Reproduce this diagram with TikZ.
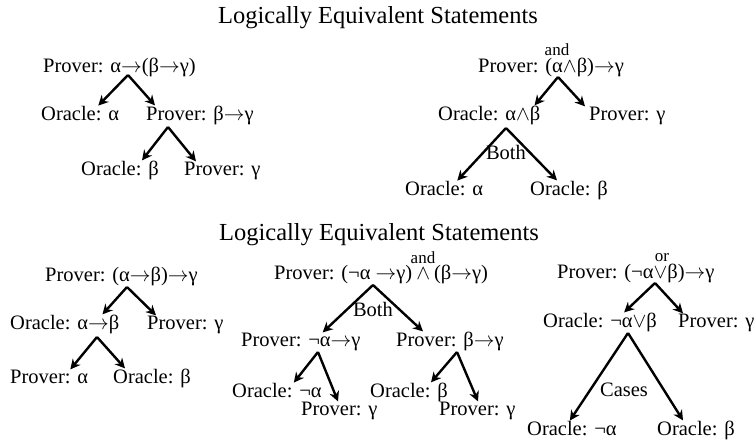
\documentclass[tikz,border=0pt]{standalone}
\usepackage{fontspec}
\setmainfont{Liberation Serif}
\usetikzlibrary{arrows.meta}
\newcommand{\andsym}{\ensuremath{\wedge}}
\newcommand{\orsym}{\ensuremath{\vee}}
\newcommand{\imp}{\ensuremath{\rightarrow}}

\begin{document}
\begin{tikzpicture}[x=1pt,y=-1pt,
  lbl/.style={anchor=base west,inner sep=0pt,font=\fontsize{20.5}{22}\selectfont},
  small/.style={anchor=base,inner sep=0pt,font=\fontsize{17}{18}\selectfont},
  ttl/.style={inner sep=0pt,font=\fontsize{24.5}{26}\selectfont},
  arr/.style={line width=2.4pt,-{Stealth[length=10pt,width=10pt]}}]
  \useasboundingbox (0,0) rectangle (754,440);

  \node[ttl] (title1) at (378,18) {Logically Equivalent Statements};
  \node[ttl] (title2) at (379,235) {Logically Equivalent Statements};

  % top left: alpha -> (beta -> gamma)
  \node[lbl] (tlp) at (43,72) {Prover: α\imp(β\imp γ)};
  \node[lbl] (tlo1) at (41,120) {Oracle: α};
  \node[lbl] (tlp2) at (146,120) {Prover: β\imp γ};
  \node[lbl] (tlo2) at (81,175) {Oracle: β};
  \node[lbl] (tlp3) at (184,175) {Prover: γ};
  \coordinate (tla1) at (128,75);
  \coordinate (tla2) at (168,127);
  \draw[arr] (tla1) -- ([xshift=-21pt]tlo1.north east);
  \draw[arr] (tla1) -- ([xshift=9pt]tlp2.north west);
  \draw[arr] (tla2) -- ([xshift=-17pt]tlo2.north east);
  \draw[arr] (tla2) -- ([xshift=12pt]tlp3.north west);

  % top right: (alpha and beta) -> gamma
  \node[lbl] (trp) at (478,72) {Prover: (α\andsym β)\imp γ};
  \node[small] (trand) at (557,55) {and};
  \node[lbl] (tro1) at (438,120) {Oracle: α\andsym β};
  \node[lbl] (trp2) at (589,120) {Prover: γ};
  \node[lbl] (tro2) at (405,195) {Oracle: α};
  \node[lbl] (tro3) at (530,195) {Oracle: β};
  \coordinate (tra1) at (558,77);
  \coordinate (tra2) at (506,128);
  \draw[arr] (tra1) -- ([xshift=-6pt]tro1.north east);
  \draw[arr] (tra1) -- ([xshift=-4pt]trp2.north west);
  \draw[arr] (tra2) -- ([xshift=-26pt]tro2.north east);
  \draw[arr] (tra2) -- ([xshift=27pt]tro3.north west);
  \node[lbl,anchor=center] (trboth) at (506,152) {Both};

  % bottom left: (alpha -> beta) -> gamma
  \node[lbl] (blp) at (45,281) {Prover: (α\imp β)\imp γ};
  \node[lbl] (blo1) at (10,329) {Oracle: α\imp β};
  \node[lbl] (blp2) at (147,329) {Prover: γ};
  \node[lbl] (blp3) at (10,383) {Prover: α};
  \node[lbl] (blo2) at (113,383) {Oracle: β};
  \coordinate (bla1) at (127,287);
  \coordinate (bla2) at (97,337);
  \draw[arr] (bla1) -- ([xshift=-17pt]blo1.north east);
  \draw[arr] (bla1) -- ([xshift=9pt]blp2.north west);
  \draw[arr] (bla2) -- ([xshift=-18pt]blp3.north east);
  \draw[arr] (bla2) -- ([xshift=12pt]blo2.north west);

  % bottom middle: (not alpha -> gamma) and (beta -> gamma)
  \node[lbl] (bmp) at (274,279) {Prover: (¬α \imp γ)\hspace{4pt}\andsym\hspace{4pt}(β\imp γ)};
  \node[small] (bmand) at (423,263) {and};
  \node[lbl] (bmp2) at (241,346) {Prover: ¬α\imp γ};
  \node[lbl] (bmp3) at (396,346) {Prover: β\imp γ};
  \node[lbl] (bmo1) at (232,397) {Oracle: ¬α};
  \node[lbl] (bmp4) at (301,415) {Prover: γ};
  \node[lbl] (bmo2) at (370,397) {Oracle: β};
  \node[lbl] (bmp5) at (439,415) {Prover: γ};
  \coordinate (bma1) at (373,285);
  \coordinate (bma2) at (318,352);
  \coordinate (bma3) at (457,352);
  \draw[arr] (bma1) -- ([xshift=-38pt]bmp2.north east);
  \draw[arr] (bma1) -- ([xshift=27pt]bmp3.north west);
  \draw[arr] (bma2) -- ([xshift=-28pt]bmo1.north east);
  \draw[arr] (bma2) -- ([xshift=37pt]bmp4.north west);
  \draw[arr] (bma3) -- ([xshift=-17pt]bmo2.north east);
  \draw[arr] (bma3) -- ([xshift=39pt]bmp5.north west);
  \node[lbl,anchor=center] (bmboth) at (373,309) {Both};

  % bottom right: (not alpha or beta) -> gamma
  \node[lbl] (brp) at (557,278) {Prover: (¬α\orsym β)\imp γ};
  \node[small] (bror) at (662,261) {or};
  \node[lbl] (bro1) at (543,327) {Oracle: ¬α\orsym β};
  \node[lbl] (brp2) at (678,327) {Prover: γ};
  \node[lbl] (bro2) at (527,435) {Oracle: ¬α};
  \node[lbl] (bro3) at (657,435) {Oracle: β};
  \coordinate (bra1) at (655,283);
  \coordinate (bra2) at (628,333);
  \draw[arr] (bra1) -- ([xshift=-33pt]bro1.north east);
  \draw[arr] (bra1) -- ([xshift=5pt]brp2.north west);
  \draw[arr] (bra2) -- ([xshift=-47pt]bro2.north east);
  \draw[arr] (bra2) -- ([xshift=26pt]bro3.north west);
  \node[lbl,anchor=center] (brcases) at (624,390) {Cases};
\end{tikzpicture}
\end{document}
